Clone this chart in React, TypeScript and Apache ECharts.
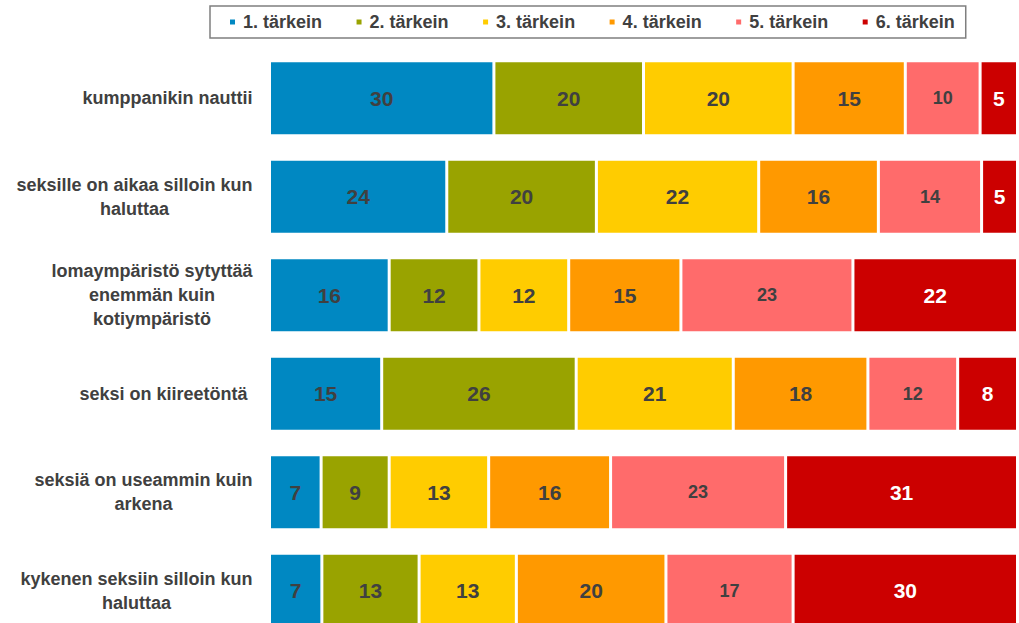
import React, { useEffect, useRef } from "react";
import * as echarts from "echarts";

const categories = [
  "kumppanikin nauttii",
  "seksille on aikaa silloin kun\nhaluttaa",
  "lomaympäristö sytyttää\nenemmän kuin\nkotiympäristö",
  "seksi on kiireetöntä ",
  "seksiä on useammin kuin\narkena",
  "kykenen seksiin silloin kun\nhaluttaa",
];

const seriesNames = ["1. tärkein", "2. tärkein", "3. tärkein", "4. tärkein", "5. tärkein", "6. tärkein"];

// shares (%) per category; labels show them rounded
const s1 = [30, 23.7, 16, 15, 6.9, 7];
const s2 = [20, 20.0, 12, 26, 9.1, 13];
const s3 = [20, 21.7, 12, 21, 13.3, 13];
const s4 = [15, 16.0, 15, 18, 16.3, 20];
const s5 = [10, 13.8, 23, 12, 23.4, 17];
const s6 = [5, 4.8, 22, 8, 31.0, 30];

const seriesValues = [s1, s2, s3, s4, s5, s6];
const colors = ["#0088C2", "#99A300", "#FFCC00", "#FF9900", "#FF6B6B", "#CC0000"];
const labelColors = ["#404040", "#404040", "#404040", "#404040", "#404040", "#FFFFFF"];
const labelSizes = [21, 21, 21, 21, 18, 21];

const FONT = "'Liberation Sans', Arial, sans-serif";
const AXIS_FONT_SIZE = 18;

export default function App() {
  const ref = useRef<HTMLDivElement>(null);
  useEffect(() => {
    if (!ref.current) return;
    const chart = echarts.init(ref.current, undefined, { renderer: "svg" });

    // centre each line of a category label inside the block of its widest line
    const canvas = document.createElement("canvas");
    const ctx = canvas.getContext("2d");
    if (ctx) ctx.font = "bold " + AXIS_FONT_SIZE + "px " + FONT;
    const measure = (t: string) => (ctx ? ctx.measureText(t).width : t.length * 9);
    const rich: Record<string, any> = {};
    categories.forEach((c, i) => {
      const lines = c.split("\n");
      const widths = lines.map(measure);
      const maxW = Math.max(...widths);
      lines.forEach((_, j) => {
        const pad = (maxW - widths[j]) / 2;
        rich["l" + i + "_" + j] = {
          fontFamily: FONT,
          fontSize: AXIS_FONT_SIZE,
          fontWeight: "bold",
          color: "#404040",
          lineHeight: 24,
          padding: [0, pad, 0, pad],
        };
      });
    });

    chart.setOption({
      animation: false,
      backgroundColor: "#ffffff",
      color: colors,
      legend: {
        data: seriesNames,
        left: 210,
        top: 6,
        icon: "rect",
        itemWidth: 7,
        itemHeight: 7,
        itemGap: 32.5,
        padding: [7, 11, 7, 18],
        borderColor: "#7f7f7f",
        borderWidth: 1.5,
        backgroundColor: "#ffffff",
        textStyle: {
          fontFamily: FONT,
          fontSize: 18,
          fontWeight: "bold",
          color: "#404040",
          padding: [0, 0, 0, 2],
        },
      },
      grid: {
        left: 269.5,
        top: 49,
        width: 748,
        height: 591,
        containLabel: false,
      },
      xAxis: {
        type: "value",
        min: 0,
        max: 100,
        show: false,
      },
      yAxis: {
        type: "category",
        data: categories,
        inverse: true,
        axisLine: { show: false },
        axisTick: { show: false },
        splitLine: { show: false },
        axisLabel: {
          margin: 17,
          align: "right",
          formatter: (v: string, idx: number) =>
            v
              .split("\n")
              .map((l, j) => "{l" + idx + "_" + j + "|" + l + "}")
              .join("\n"),
          rich,
        },
      },
      series: seriesValues.map((vals, i) => ({
        name: seriesNames[i],
        type: "bar",
        stack: "total",
        data: vals,
        barWidth: 75,
        itemStyle: {
          color: colors[i],
          borderColor: "#ffffff",
          borderWidth: 1.5,
        },
        label: {
          show: true,
          position: "inside",
          formatter: (p: any) => String(Math.round(p.value)),
          fontFamily: FONT,
          fontSize: labelSizes[i],
          fontWeight: "bold",
          color: labelColors[i],
        },
      })),
    });
    return () => chart.dispose();
  }, []);
  return (
    <div style={{ position: "absolute", left: 0, top: 0, width: 1019, height: 623, overflow: "hidden" }}>
      <div ref={ref} style={{ width: 1019, height: 660 }} />
    </div>
  );
}
